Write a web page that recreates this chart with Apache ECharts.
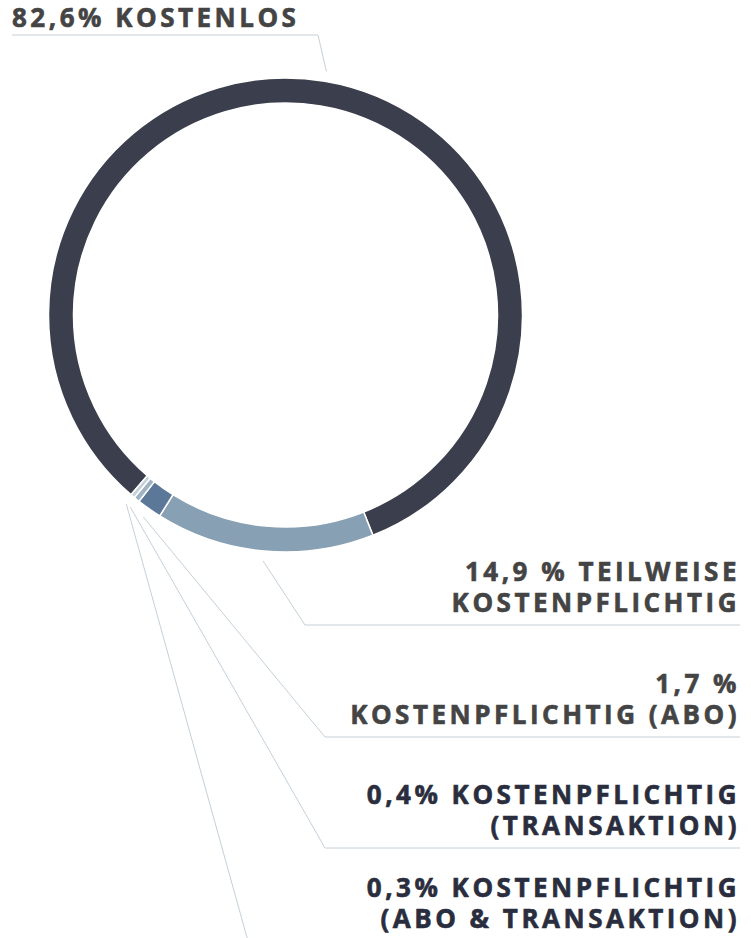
<!DOCTYPE html>
<html><head><meta charset="utf-8">
<script src="https://cdn.jsdelivr.net/npm/echarts@6/dist/echarts.min.js"></script>
<style>
html,body{margin:0;padding:0;background:#fff;}
#chart{width:751px;height:938px;}
#chart text{letter-spacing:3.5px;}
</style></head><body><div id="chart"></div>
<script>
// ---- data ----
const categories = ['Kostenlos', 'Teilweise kostenpflichtig', 'Kostenpflichtig (Abo)', 'Kostenpflichtig (Transaktion)', 'Kostenpflichtig (Abo & Transaktion)'];
const shares = [82.6, 14.9, 1.7, 0.4, 0.3];
const labelTexts = [
  '82,6% KOSTENLOS',
  '14,9 % TEILWEISE\nKOSTENPFLICHTIG',
  '1,7 %\nKOSTENPFLICHTIG (ABO)',
  '0,4% KOSTENPFLICHTIG\n(TRANSAKTION)',
  '0,3% KOSTENPFLICHTIG\n(ABO & TRANSAKTION)'
];
// ---- styles / layout ----
const sliceColors = ['#3b3e4d', '#87a0b3', '#5b7898', '#9fb3c3', '#c6d1da'];
const labelColors = ['#444444', '#444444', '#444444', '#2a2d3d', '#2a2d3d'];
const leaderY = [35, 625, 737, 848, 941];
const leaderElbowX = [318, 305, 325, 325, 248];

const W = 751, H = 938;
const CX = 285.5, CY = 315, R_IN = 212, R_OUT = 237;
const START = 229.3;

const chart = echarts.init(document.getElementById('chart'), null, {renderer: 'svg', width: W, height: H});

const total = shares.reduce((a, b) => a + b, 0);
function midPoint(i, r) {
  let cum = 0;
  for (let k = 0; k < i; k++) cum += shares[k];
  const theta = (90 - START) + (cum + shares[i] / 2) / total * 360;
  const t = theta * Math.PI / 180;
  return [CX + r * Math.sin(t), CY - r * Math.cos(t)];
}

chart.setOption({
  animation: false,
  backgroundColor: '#fff',
  series: [{
    type: 'pie',
    center: [CX, CY],
    radius: [R_IN, R_OUT],
    startAngle: START,
    clockwise: true,
    avoidLabelOverlap: false,
    emphasis: {disabled: true},
    data: categories.map((c, i) => ({
      name: c,
      value: shares[i],
      itemStyle: {color: sliceColors[i]},
      label: {color: labelColors[i], textBorderColor: labelColors[i]}
    })),
    itemStyle: {borderColor: '#ffffff', borderWidth: 1.5},
    label: {
      show: true,
      position: 'outside',
      formatter: p => labelTexts[p.dataIndex],
      fontFamily: 'Open Sans',
      fontWeight: 700,
      fontSize: 26,
      lineHeight: 31,
      textBorderWidth: 0.6
    },
    labelLine: {show: true, smooth: false, lineStyle: {color: '#c5d0d8', width: 1}},
    labelLayout: function (params) {
      const i = params.dataIndex;
      const start = midPoint(i, R_OUT + 10);
      const ly = leaderY[i];
      if (i === 0) {
        return {
          x: 12, y: ly - 3, align: 'left', verticalAlign: 'bottom',
          labelLinePoints: [start, [leaderElbowX[i], ly], [12, ly]]
        };
      }
      return {
        x: 740, y: ly - 8, align: 'right', verticalAlign: 'bottom',
        labelLinePoints: [start, [leaderElbowX[i], ly], [740, ly]]
      };
    }
  }]
});
</script></body></html>
